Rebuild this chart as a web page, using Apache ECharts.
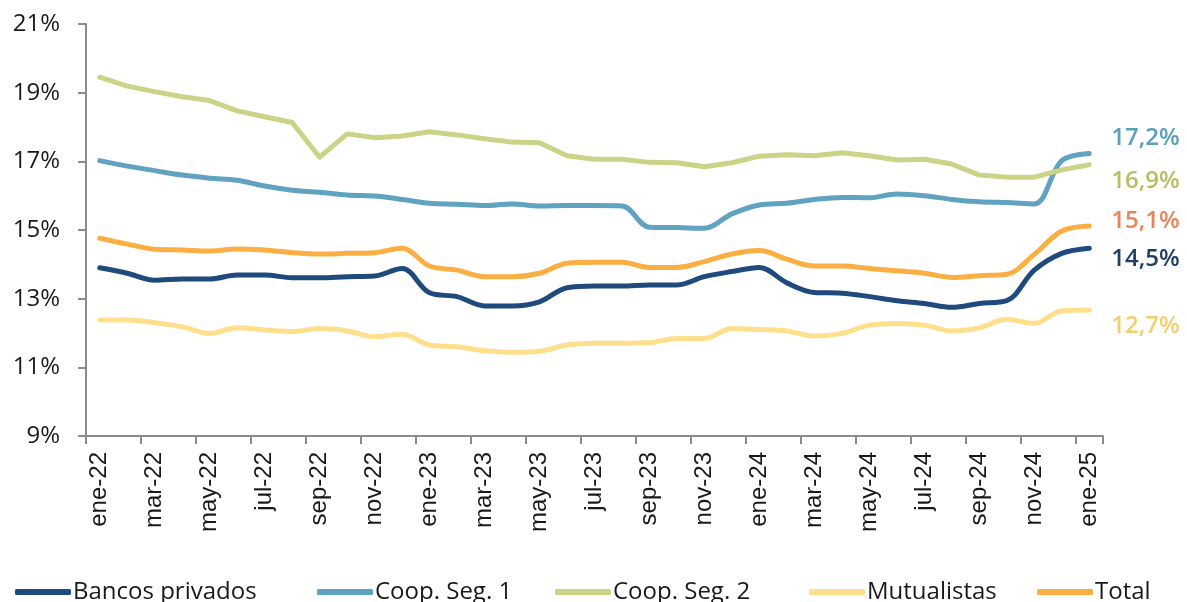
<!DOCTYPE html>
<html>
<head>
<meta charset="utf-8">
<script src="https://cdn.jsdelivr.net/npm/echarts@6/dist/echarts.min.js"></script>
<style>
    html, body { margin: 0; padding: 0; background: #fff; }
    #chart_morosidad { width: 1187px; height: 602px; }
</style>
</head>
<body>
<div id="chart_morosidad"></div>
<script>
// meses ene-22 .. ene-25
const months = ["ene", "feb", "mar", "abr", "may", "jun", "jul", "ago", "sep", "oct", "nov", "dic"];
const categories = [];
for (let y = 22; y <= 25; y++) {
    months.forEach(m => {
        if (categories.length < 37) categories.push(m + "-" + y);
    });
}

const bancosPrivados = [13.90, 13.74, 13.54, 13.57, 13.57, 13.69, 13.69, 13.61, 13.61, 13.64, 13.66, 13.88,
    13.17, 13.06, 12.79, 12.79, 12.91, 13.32, 13.37, 13.37, 13.40, 13.40, 13.64, 13.79,
    13.91, 13.46, 13.18, 13.16, 13.06, 12.94, 12.86, 12.75, 12.86, 12.94, 13.83, 14.32, 14.47];
const coopSeg1 = [17.02, 16.86, 16.73, 16.60, 16.51, 16.45, 16.28, 16.16, 16.10, 16.02, 15.99, 15.89,
    15.78, 15.75, 15.71, 15.76, 15.70, 15.71, 15.71, 15.70, 15.08, 15.07, 15.05, 15.47,
    15.73, 15.78, 15.89, 15.95, 15.94, 16.05, 16.00, 15.89, 15.82, 15.80, 15.76, 17.02, 17.23];
const coopSeg2 = [19.45, 19.19, 19.03, 18.88, 18.77, 18.47, 18.30, 18.13, 17.12, 17.80, 17.69, 17.74,
    17.86, 17.77, 17.66, 17.56, 17.54, 17.16, 17.06, 17.06, 16.97, 16.96, 16.84, 16.96,
    17.15, 17.19, 17.16, 17.25, 17.16, 17.04, 17.06, 16.92, 16.60, 16.54, 16.54, 16.75, 16.90];
const mutualistas = [12.38, 12.38, 12.30, 12.18, 11.99, 12.15, 12.09, 12.04, 12.13, 12.06, 11.89, 11.96,
    11.65, 11.60, 11.48, 11.44, 11.47, 11.65, 11.70, 11.70, 11.72, 11.84, 11.84, 12.13,
    12.10, 12.06, 11.91, 11.99, 12.23, 12.28, 12.23, 12.06, 12.15, 12.40, 12.28, 12.65, 12.67];
const total = [14.76, 14.59, 14.44, 14.42, 14.39, 14.45, 14.42, 14.34, 14.30, 14.32, 14.34, 14.47,
    13.95, 13.83, 13.64, 13.64, 13.74, 14.03, 14.06, 14.06, 13.91, 13.91, 14.08, 14.30,
    14.40, 14.15, 13.95, 13.95, 13.88, 13.81, 13.74, 13.62, 13.67, 13.71, 14.29, 14.97, 15.12];

const seriesNames = ["Bancos privados", "Coop. Seg. 1", "Coop. Seg. 2", "Mutualistas", "Total"];
const seriesData = [bancosPrivados, coopSeg1, coopSeg2, mutualistas, total];
const lineColors = ["#1f4a7d", "#5fa3c0", "#cad386", "#fedf8b", "#fbaf42"];
const labelColors = ["#1f3f6b", "#5aa0bd", "#b7bd62", "#f2cf6e", "#e8845a"];
// desplazamiento vertical de las etiquetas finales para que no se encimen
const labelDy = [11, -15, 16, 16, -5];
const smoothed = [0.35, 0.35, false, 0.35, 0.35];
// posicion x de cada item de la leyenda
const legendLeft = [10, 312, 550, 804, 1032];

const myChart = echarts.init(document.getElementById("chart_morosidad"));

function getSerieData(name, index) {
    return {
        name: name,
        type: "line",
        data: seriesData[index],
        smooth: smoothed[index],
        symbol: "none",
        z: index === 4 ? 3 : 2,
        lineStyle: {
            width: 5,
            color: lineColors[index],
            cap: "round",
            join: "round",
        },
        itemStyle: { color: lineColors[index] },
        endLabel: {
            show: true,
            distance: 22,
            offset: [0, labelDy[index]],
            color: labelColors[index],
            fontFamily: "Open Sans",
            fontWeight: 600,
            fontSize: 24,
            formatter: p => p.value.toFixed(1).replace(".", ",") + "%",
        },
    };
}

function getLegend(name, index) {
    return {
        show: true,
        left: legendLeft[index],
        top: 575,
        icon: "roundRect",
        itemWidth: 56,
        itemHeight: 6,
        textStyle: {
            color: "#1a1a1a",
            fontFamily: "Open Sans",
            fontSize: 24,
            padding: [0, 0, 0, -3],
        },
        data: [name],
    };
}

const option = {
    animation: false,
    legend: seriesNames.map((n, i) => getLegend(n, i)),
    grid: {
        left: 86,
        right: 84,
        top: 24,
        bottom: 166,
    },
    xAxis: {
        type: "category",
        boundaryGap: true,
        data: categories,
        axisLine: { lineStyle: { color: "#8c8c8c", width: 2 } },
        axisTick: { show: true, interval: 1, length: 8, lineStyle: { color: "#8c8c8c", width: 2 } },
        axisLabel: {
            interval: 1,
            rotate: 90,
            margin: 16,
            color: "#1a1a1a",
            fontFamily: "Liberation Sans",
            fontSize: 24,
        },
        splitLine: { show: false },
    },
    yAxis: {
        type: "value",
        min: 9,
        max: 21,
        interval: 2,
        axisLine: { show: true, lineStyle: { color: "#8c8c8c", width: 2 } },
        axisTick: { show: true, length: 8, lineStyle: { color: "#8c8c8c", width: 2 } },
        axisLabel: {
            margin: 26,
            color: "#1a1a1a",
            fontFamily: "Open Sans",
            fontSize: 24,
            formatter: "{value}%",
        },
        splitLine: { show: false },
    },
    series: seriesNames.map((n, i) => getSerieData(n, i)),
};

myChart.setOption(option);
window.addEventListener("resize", () => {
    myChart.resize();
});
</script>
</body>
</html>
